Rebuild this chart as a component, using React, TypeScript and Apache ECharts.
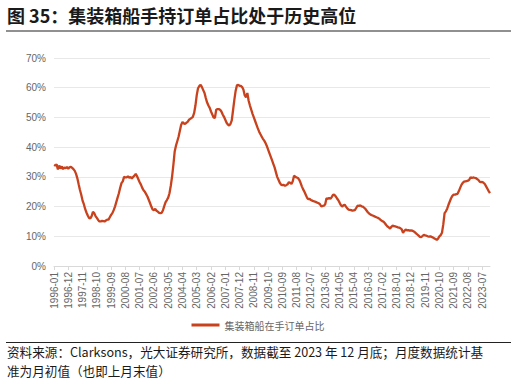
import React, { useEffect, useRef } from "react";
import * as echarts from "echarts";

const TITLE = "图 35：集装箱船手持订单占比处于历史高位";
const SOURCE_LINE1 = "资料来源：Clarksons，光大证券研究所，数据截至 2023 年 12 月底；月度数据统计基";
const SOURCE_LINE2 = "准为月初值（也即上月末值）";
const SERIES_NAME = "集装箱船在手订单占比";
const START_YEAR = 1996;

// Monthly values (%), one row per year, 1996 .. 2023, then 2024-01
const y1996 = [34, 33.8, 34.2, 32.5, 33.8, 32.8, 33.5, 32.6, 33.2, 32.9, 33.3, 32.7];
const y1997 = [33.2, 33.4, 33, 32.6, 32, 31, 29.5, 27.5, 25.6, 24, 22, 20.8];
const y1998 = [19.2, 18, 17, 16.2, 16, 16.8, 18.2, 17.8, 16.8, 16.2, 15.5, 15];
const y1999 = [15, 15.2, 15.1, 15, 15.3, 15.6, 15.6, 16.4, 17.2, 17.8, 18.8, 20];
const y2000 = [21.5, 23, 24.5, 26.3, 27.9, 28.5, 30, 29.8, 29.8, 30.2, 29.7, 30];
const y2001 = [29.4, 30, 30.4, 31, 30.2, 29.2, 28.2, 27.4, 26.3, 25.5, 25, 24.2];
const y2002 = [23.4, 22.3, 21.2, 20, 19, 18.8, 19.2, 18.6, 18.3, 17.9, 17.8, 17.9];
const y2003 = [18.8, 20.2, 21.5, 22.2, 23, 24.5, 27, 30.1, 34, 38.5, 40.5, 42];
const y2004 = [43.5, 45.5, 47.5, 48.5, 48, 47.8, 48.2, 48.5, 49.2, 49.5, 49.8, 50.2];
const y2005 = [51.5, 54, 57.5, 59.8, 60.6, 61, 60.2, 59.2, 58.2, 56.5, 55, 54];
const y2006 = [53.2, 52, 51, 50, 49.8, 52.6, 52.8, 52.8, 52.6, 52, 51, 50.2];
const y2007 = [49.2, 48.2, 47.6, 47.3, 47.8, 49, 52.5, 56, 59, 60.8, 61, 60.6];
const y2008 = [60.6, 60.2, 59.3, 57.4, 56.8, 58.2, 55.6, 54, 52.6, 51.2, 50, 48.8];
const y2009 = [47.6, 46.4, 45.3, 44.4, 43.6, 42.8, 42.2, 41.4, 40.4, 39.2, 38, 36.8];
const y2010 = [35.6, 34.4, 33.2, 31.6, 30, 29, 28, 27.4, 27.2, 27.3, 27, 27.2];
const y2011 = [27.5, 28.2, 28, 27.6, 28.5, 30.4, 30, 29.8, 29.6, 29, 28, 26.8];
const y2012 = [25.8, 25, 24, 23, 22.5, 22.6, 22.2, 22, 21.8, 21.7, 21.5, 21.3];
const y2013 = [21.1, 20.8, 20, 20.2, 20.3, 20.8, 22.8, 22.6, 22.9, 22.6, 23.2, 23.9];
const y2014 = [24, 23.5, 22.8, 22.2, 21.4, 20.5, 20, 20.4, 20.6, 20, 19.4, 19];
const y2015 = [18.9, 18.8, 18.6, 18.7, 18.9, 19.6, 20.3, 20.2, 20.4, 20.1, 20, 19.6];
const y2016 = [19.2, 18.6, 18, 17.6, 17.3, 17.1, 16.9, 16.7, 16.5, 16.3, 16.1, 15.8];
const y2017 = [15.4, 15.1, 14.9, 14.4, 13.8, 13.3, 13, 12.6, 13.2, 13.6, 13.4, 13.3];
const y2018 = [13.2, 13, 12.9, 12.7, 12.3, 11.2, 11.8, 12.3, 12, 12.1, 11.9, 12];
const y2019 = [11.9, 11.7, 11.4, 11, 10.6, 10.2, 9.8, 9.7, 10.1, 10.5, 10.3, 10.2];
const y2020 = [10, 9.9, 10, 9.8, 9.6, 9.3, 9.1, 8.8, 9.2, 10, 10.4, 11.2];
const y2021 = [14, 17.8, 18.4, 19.3, 20.6, 21.7, 22.8, 23.6, 24, 24, 24.2, 24.3];
const y2022 = [25.2, 26.3, 27.3, 28, 28.4, 28.5, 28.6, 28.7, 29, 29.9, 29.6, 29.8];
const y2023 = [29.7, 29.6, 29.3, 29, 28.4, 28.2, 28.3, 28, 27.6, 26.8, 26, 25.2];
const y2024 = [24.5];

const yearRows = [
  y1996, y1997, y1998, y1999, y2000, y2001, y2002, y2003, y2004, y2005,
  y2006, y2007, y2008, y2009, y2010, y2011, y2012, y2013, y2014, y2015,
  y2016, y2017, y2018, y2019, y2020, y2021, y2022, y2023, y2024,
];

const values: number[] = [];
const categories: string[] = [];
yearRows.forEach((row, yi) => {
  row.forEach((v, mi) => {
    values.push(v);
    categories.push(`${START_YEAR + yi}-${String(mi + 1).padStart(2, "0")}`);
  });
});

const FONT = "'Noto Sans CJK SC', 'Noto Sans', sans-serif";
const AXIS_FONT = "'Liberation Sans', Arial, sans-serif";

export default function App() {
  const ref = useRef<HTMLDivElement>(null);
  useEffect(() => {
    if (!ref.current) return;
    const chart = echarts.init(ref.current, null, { renderer: "svg" });
    chart.setOption({
      animation: false,
      backgroundColor: "#ffffff",
      textStyle: { fontFamily: FONT },
      grid: { left: 54, right: 26, top: 58, bottom: 115 },
      legend: {
        data: [SERIES_NAME],
        left: "center",
        top: 315,
        icon: "rect",
        itemWidth: 28,
        itemHeight: 3,
        itemGap: 4,
        textStyle: { color: "#666666", fontSize: 10, fontFamily: FONT },
      },
      xAxis: {
        type: "category",
        data: categories,
        boundaryGap: false,
        axisLine: { lineStyle: { color: "#d9d9d9" } },
        axisTick: { interval: 10, length: 4, lineStyle: { color: "#d9d9d9" } },
        axisLabel: {
          interval: 10,
          rotate: 90,
          margin: 6,
          color: "#666666",
          fontSize: 10,
          fontFamily: AXIS_FONT,
        },
      },
      yAxis: {
        type: "value",
        min: 0,
        max: 70,
        interval: 10,
        axisLine: { show: false },
        axisTick: { show: false },
        axisLabel: {
          formatter: "{value}%",
          color: "#666666",
          fontSize: 10,
          margin: 8,
          fontFamily: AXIS_FONT,
        },
        splitLine: { lineStyle: { color: "#e8e8e8", width: 1 } },
      },
      series: [
        {
          name: SERIES_NAME,
          type: "line",
          data: values,
          showSymbol: false,
          symbol: "none",
          lineStyle: { color: "#C8421E", width: 2.3 },
          itemStyle: { color: "#C8421E" },
        },
      ],
      graphic: [
        {
          type: "text",
          x: 7,
          y: 15,
          style: {
            text: TITLE,
            fontSize: 18,
            fontWeight: "bold",
            fill: "#1a1a1a",
            fontFamily: FONT,
            verticalAlign: "middle",
          },
        },
        {
          type: "line",
          shape: { x1: 6, y1: 31, x2: 511, y2: 31 },
          style: { stroke: "#6b6b6b", lineWidth: 1.6 },
        },
        {
          type: "line",
          shape: { x1: 6, y1: 342.5, x2: 511, y2: 342.5 },
          style: { stroke: "#222222", lineWidth: 1 },
        },
        {
          type: "text",
          x: 7,
          y: 351.6,
          style: {
            text: SOURCE_LINE1,
            fontSize: 12.6,
            fill: "#1a1a1a",
            fontFamily: FONT,
            verticalAlign: "middle",
          },
        },
        {
          type: "text",
          x: 7,
          y: 370.2,
          style: {
            text: SOURCE_LINE2,
            fontSize: 12.6,
            fill: "#1a1a1a",
            fontFamily: FONT,
            verticalAlign: "middle",
          },
        },
      ],
    });
    return () => chart.dispose();
  }, []);
  return (
    <div
      ref={ref}
      style={{ position: "fixed", left: 0, top: 0, width: 516, height: 381 }}
    />
  );
}
